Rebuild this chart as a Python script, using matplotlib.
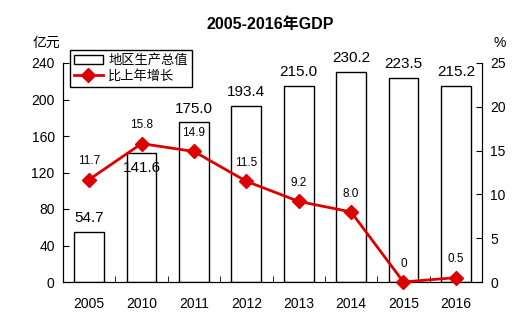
import numpy as np
import matplotlib
matplotlib.use("Agg")
import matplotlib.pyplot as plt
from matplotlib.ticker import FixedLocator

plt.rcParams['font.family'] = ['Liberation Sans', 'Noto Sans CJK SC', 'DejaVu Sans']

# 数据
years = ['2005', '2010', '2011', '2012', '2013', '2014', '2015', '2016']
gdp = [54.7, 141.6, 175.0, 193.4, 215.0, 230.2, 223.5, 215.2]
growth = [11.7, 15.8, 14.9, 11.5, 9.2, 8.0, 0, 0.5]
growth_labels = ['11.7', '15.8', '14.9', '11.5', '9.2', '8.0', '0', '0.5']

fig = plt.figure(figsize=(5.21, 3.23), dpi=100)
ax = fig.add_axes([63 / 521, 1 - 282 / 323, (482 - 63) / 521, (282 - 63) / 323])
ax2 = ax.twinx()

x = np.arange(len(years))
bars = ax.bar(x, gdp, width=0.57, color='white', edgecolor='black', linewidth=1,
              label='地区生产总值', zorder=2)
ax.set_xlim(-0.5, len(years) - 0.5)
ax.set_ylim(0, 240)
ax.set_yticks(range(0, 241, 40))
ax.set_xticks(x)
ax.set_xticklabels(years, fontsize=10)
ax.xaxis.set_minor_locator(FixedLocator(x[:-1] + 0.5))
ax.tick_params(axis='x', which='major', length=0, pad=11)
ax.tick_params(axis='x', which='minor', direction='in', length=4)
ax.tick_params(axis='y', direction='in', length=4, labelsize=10, pad=6)

for i, v in enumerate(gdp):
    if i == 1:
        ax.text(i, v - 17, f'{v:.1f}', ha='center', va='center', fontsize=11, zorder=3)
    else:
        ax.text(i, v + 15, f'{v:.1f}', ha='center', va='center', fontsize=11, zorder=3)

line, = ax2.plot(x, growth, color='#dd0000', linewidth=2, marker='D', markersize=7,
                 label='比上年增长', zorder=4, clip_on=False)
ax2.set_ylim(0, 25)
ax2.set_yticks(range(0, 26, 5))
ax2.tick_params(axis='y', direction='in', length=4, labelsize=10, pad=6)
for i, v in enumerate(growth):
    ax2.text(i, v + 2.1, growth_labels[i], ha='center', va='center', fontsize=8.5)

for a in (ax, ax2):
    a.spines['top'].set_visible(False)

fig.text(270 / 521, 1 - 25 / 323, '2005-2016年GDP', ha='center', va='center',
         fontsize=11.5, fontweight='bold')
fig.text(46 / 521, 1 - 43 / 323, '亿元', ha='center', va='center', fontsize=10)
fig.text(500 / 521, 1 - 43 / 323, '%', ha='center', va='center', fontsize=10)

leg = ax2.legend(handles=[bars, line], loc='upper left', bbox_to_anchor=(70 / 521, 1 - 50 / 323),
                 bbox_transform=fig.transFigure, fontsize=9.5, frameon=True, fancybox=False,
                 edgecolor='black', borderpad=0.3, labelspacing=0.25, handlelength=2.2,
                 handletextpad=0.4, borderaxespad=0, framealpha=1)
leg.get_frame().set_linewidth(1)

fig.savefig('out.png', dpi=100)
